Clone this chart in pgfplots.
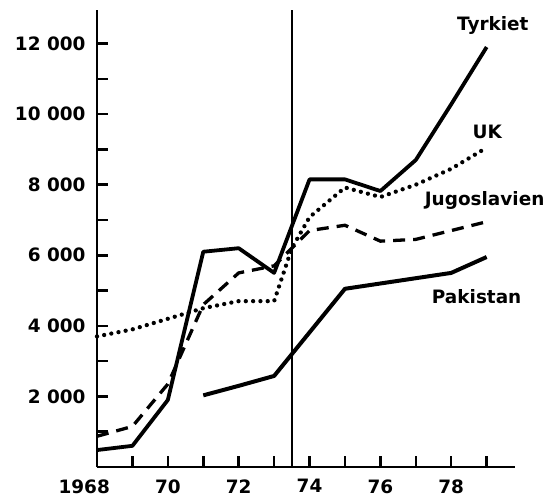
\documentclass[border=0pt]{standalone}
\usepackage{fontspec}
\setmainfont{DejaVu Sans}
\usepackage{pgfplots}
\pgfplotsset{compat=1.18}
\newcommand\lblfont{\fontsize{18.5}{22}\selectfont\bfseries}
\begin{document}
\begin{tikzpicture}
\useasboundingbox (0,0) rectangle (544bp,501bp);
\begin{axis}[
  at={(97bp,34bp)}, anchor=south west,
  scale only axis, width=418bp, height=457bp,
  xmin=1968, xmax=1979.8, ymin=0, ymax=12950,
  scaled x ticks=false, scaled y ticks=false,
  axis x line*=bottom, axis y line*=left,
  axis line style={line width=2.7bp, -},
  xtick={1968,...,1979},
  xticklabels={\llap{19}68,,70,,72,,74,,76,,78,},
  ytick={2000,4000,...,12000},
  yticklabels={2 000,4 000,6 000,8 000,10 000,12 000},
  minor ytick={1000,3000,...,11000},
  tick align=inside,
  major tick length=11bp, minor tick length=11bp,
  tick style={line width=2.5bp, black},
  ticklabel style={font=\lblfont},
  xticklabel style={yshift=-9bp},
  yticklabel style={xshift=-8bp},
  clip=false,
]
% Tyrkiet
\addplot[line width=3.8bp, line join=round] coordinates {
 (1968,480) (1969,600) (1970,1900) (1971,6100) (1972,6200) (1973,5500)
 (1974,8150) (1975,8150) (1976,7820) (1977,8700) (1978,10280) (1979,11900)};
% UK
\addplot[line width=4.3bp, line cap=round, dash pattern=on 0bp off 7.3bp] coordinates {
 (1968,3700) (1969,3900) (1970,4200) (1971,4500) (1972,4700) (1973,4700)
 (1973.15,5150) (1973.5,6200) (1974,7080) (1975,7920) (1976,7650) (1977,8000)
 (1978,8450) (1979,9050)};
% Jugoslavien
\addplot[line width=3.3bp, dash pattern=on 12bp off 8bp] coordinates {
 (1968,870) (1969,1150) (1970,2350) (1971,4600) (1972,5500) (1973,5700)
 (1974,6700) (1975,6850) (1976,6400) (1977,6450) (1978,6700) (1979,6950)};
% Pakistan
\addplot[line width=4bp, line join=round] coordinates {
 (1971,2030) (1972,2300) (1973,2580) (1975,5050) (1976,5200) (1977,5350)
 (1978,5500) (1979,5950)};
\draw[line width=2bp] (axis cs:1973.5,0) -- (axis cs:1973.5,12950);
\node[anchor=base west, font=\lblfont, inner sep=0pt] at (axis cs:1978.16,12380) {Tyrkiet};
\node[anchor=base west, font=\lblfont, inner sep=0pt] at (axis cs:1978.6,9320) {UK};
\node[anchor=base west, font=\lblfont, inner sep=0pt] at (axis cs:1977.25,7420) {Jugoslavien};
\node[anchor=base west, font=\lblfont, inner sep=0pt] at (axis cs:1977.45,4646) {Pakistan};
\end{axis}
\end{tikzpicture}
\end{document}
